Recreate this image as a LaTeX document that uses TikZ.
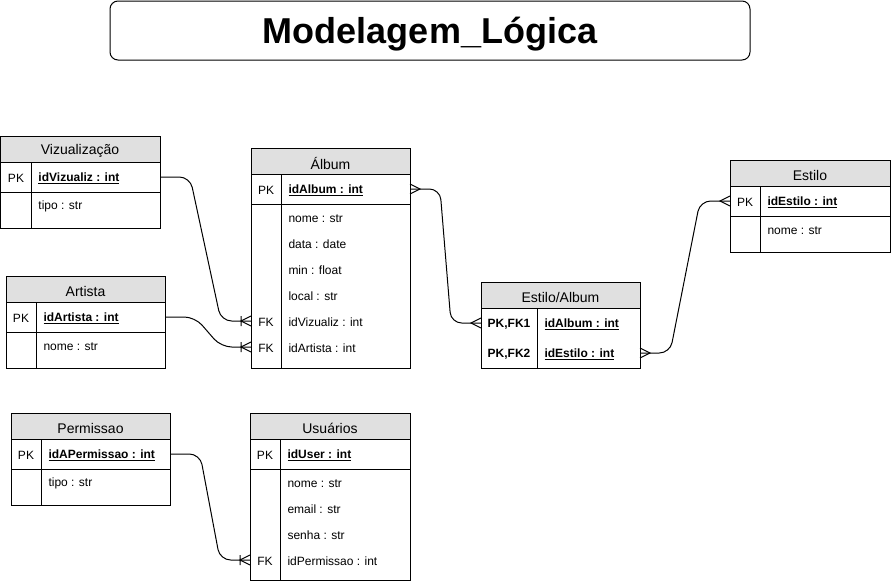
\documentclass[tikz,border=0pt]{standalone}
\usepackage{fontspec}
\setmainfont{Liberation Sans}
\usetikzlibrary{calc}

\definecolor{headgray}{RGB}{224,224,224}

\tikzset{every picture/.style={line width=0.75pt}}
\tikzset{
  hdrtxt/.style={inner sep=0.75pt, yshift=-1.8pt, font=\fontsize{10.5}{12}\selectfont},
  keytxt/.style={inner sep=0.75pt, yshift=-1.2pt, font=\fontsize{9}{11}\selectfont},
  fldtxt/.style={anchor=west, inner sep=0.75pt, yshift=-1.2pt, font=\fontsize{9}{11}\selectfont},
  rel/.style={rounded corners=8pt},
  crowL/.pic={\draw (0,-5) -- (-10,0) -- (0,5);},
  crowR/.pic={\draw (0,-5) -- (10,0) -- (0,5);},
  onemanyL/.pic={\draw (0,-5) -- (-10,0) -- (0,5) (-10,-5) -- (-10,5);}
}

\begin{document}
\begin{tikzpicture}[x=0.75pt,y=0.75pt,yscale=-1,xscale=1]
	\useasboundingbox (0,0) rectangle (892,582);

	%Rounded Rect [title]
	\draw [rounded corners=6pt] (110,1) rectangle (750,60);
	% Text Node
	\node [inner sep=0.75pt, yshift=-2.5pt, font=\fontsize{27}{32}\selectfont\bfseries] (title) at (430,31) {Modelagem\_Lógica};

	%Shape: Table [Vizualizacao]
	\draw [fill=headgray] (0.5,136) rectangle (160,162);
	\draw (0.5,162) rectangle (160,228);
	\draw (0.5,192) -- (160,192) (31,162) -- (31,228);
	\node [hdrtxt] (viz) at (80,149) {Vizualização};
	\node [keytxt] (vizK) at (16,177) {PK};
	\node [fldtxt] (vizPK) at (37,177) {\underline{\textbf{idVizualiz : int}}};
	\node [fldtxt] (vizTipo) at (37,205) {tipo : str};
	\coordinate (vizE) at (160,177);

	%Shape: Table [Artista]
	\draw [fill=headgray] (6,276) rectangle (165,302);
	\draw (6,302) rectangle (165,368);
	\draw (6,332) -- (165,332) (36,302) -- (36,368);
	\node [hdrtxt] (art) at (85.5,289) {Artista};
	\node [keytxt] (artK) at (21,317) {PK};
	\node [fldtxt] (artPK) at (42,317) {\underline{\textbf{idArtista : int}}};
	\node [fldtxt] (artNome) at (42,345) {nome : str};
	\coordinate (artE) at (165,317);

	%Shape: Table [Album]
	\draw [fill=headgray] (251,148) rectangle (410,174);
	\draw (251,174) rectangle (410,368);
	\draw (251,204) -- (410,204) (281,174) -- (281,368);
	\node [hdrtxt] (alb) at (330.5,161) {Álbum};
	\node [keytxt] (albK) at (266,189) {PK};
	\node [fldtxt] (albPK) at (287,189) {\underline{\textbf{idAlbum : int}}};
	\node [fldtxt] (albNome) at (287,217) {nome : str};
	\node [fldtxt] (albData) at (287,243) {data : date};
	\node [fldtxt] (albMin) at (287,269) {min : float};
	\node [fldtxt] (albLocal) at (287,295) {local : str};
	\node [keytxt] (albKv) at (266,321) {FK};
	\node [fldtxt] (albViz) at (287,321) {idVizualiz : int};
	\node [keytxt] (albKa) at (266,347) {FK};
	\node [fldtxt] (albArt) at (287,347) {idArtista : int};
	\coordinate (albE) at (410,189);
	\coordinate (albFKv) at (251,321);
	\coordinate (albFKa) at (251,347);

	%Shape: Table [Estilo/Album]
	\draw [fill=headgray] (481,282) rectangle (640,308);
	\draw (481,308) rectangle (640,368);
	\draw (537,308) -- (537,368);
	\node [hdrtxt] (ea) at (560.5,295) {Estilo/Album};
	\node [keytxt, font=\fontsize{9}{11}\selectfont\bfseries] (eaK1) at (509,323) {PK,FK1};
	\node [fldtxt] (eaAlb) at (543,323) {\underline{\textbf{idAlbum : int}}};
	\node [keytxt, font=\fontsize{9}{11}\selectfont\bfseries] (eaK2) at (509,353) {PK,FK2};
	\node [fldtxt] (eaEst) at (543,353) {\underline{\textbf{idEstilo : int}}};
	\coordinate (eaW) at (481,323);
	\coordinate (eaE) at (640,353);

	%Shape: Table [Estilo]
	\draw [fill=headgray] (730,160) rectangle (890,186);
	\draw (730,186) rectangle (890,252);
	\draw (730,216) -- (890,216) (760,186) -- (760,252);
	\node [hdrtxt] (est) at (810,173) {Estilo};
	\node [keytxt] (estK) at (745,201) {PK};
	\node [fldtxt] (estPK) at (766,201) {\underline{\textbf{idEstilo : int}}};
	\node [fldtxt] (estNome) at (766,229) {nome : str};
	\coordinate (estW) at (730,201);

	%Shape: Table [Permissao]
	\draw [fill=headgray] (11,413) rectangle (170,439);
	\draw (11,439) rectangle (170,505);
	\draw (11,469) -- (170,469) (41,439) -- (41,505);
	\node [hdrtxt] (per) at (90.5,426) {Permissao};
	\node [keytxt] (perK) at (26,454) {PK};
	\node [fldtxt] (perPK) at (47,454) {\underline{\textbf{idAPermissao : int}}};
	\node [fldtxt] (perTipo) at (47,482) {tipo : str};
	\coordinate (perE) at (170,454);

	%Shape: Table [Usuarios]
	\draw [fill=headgray] (250,413) rectangle (410,439);
	\draw (250,439) rectangle (410,580);
	\draw (250,469) -- (410,469) (280,439) -- (280,580);
	\node [hdrtxt] (usr) at (330,426) {Usuários};
	\node [keytxt] (usrK) at (265,454) {PK};
	\node [fldtxt] (usrPK) at (286,454) {\underline{\textbf{idUser : int}}};
	\node [fldtxt] (usrNome) at (286,482) {nome : str};
	\node [fldtxt] (usrEmail) at (286,508) {email : str};
	\node [fldtxt] (usrSenha) at (286,534) {senha : str};
	\node [keytxt] (usrKp) at (265,560) {FK};
	\node [fldtxt] (usrPer) at (286,560) {idPermissao : int};
	\coordinate (usrFK) at (250,560);

	%Relations
	\draw [rel] (vizE) -- ++(30,0) -- ($(albFKv)+(-30,0)$) -- (albFKv);
	\pic at (albFKv) {onemanyL};
	\draw [rel] (artE) -- ++(30,0) -- ($(albFKa)+(-30,0)$) -- (albFKa);
	\pic at (albFKa) {onemanyL};
	\draw [rel] (albE) -- ++(30,0) -- ($(eaW)+(-30,0)$) -- (eaW);
	\pic at (albE) {crowR};
	\pic at (eaW) {crowL};
	\draw [rel] (eaE) -- ++(30,0) -- ($(estW)+(-30,0)$) -- (estW);
	\pic at (eaE) {crowR};
	\pic at (estW) {crowL};
	\draw [rel] (perE) -- ++(30,0) -- ($(usrFK)+(-30,0)$) -- (usrFK);
	\pic at (usrFK) {onemanyL};

\end{tikzpicture}
\end{document}
